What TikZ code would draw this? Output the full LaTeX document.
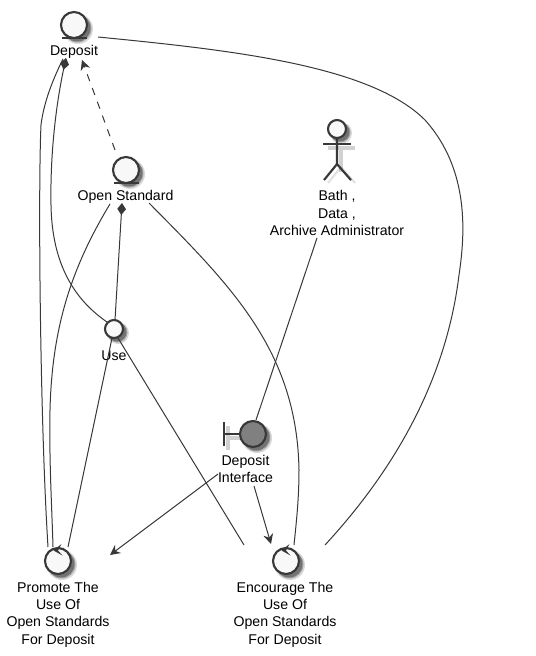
\documentclass[tikz,border=0pt]{standalone}
\usepackage{fontspec}
\setmainfont{Liberation Sans}
\usetikzlibrary{calc, arrows.meta}

\definecolor{umlline}{HTML}{383838}
\definecolor{umlfill}{HTML}{F8F8F8}

\begin{document}
\begin{tikzpicture}[x=0.75pt, y=-0.75pt, >={Stealth[length=7.5pt, width=7.5pt, inset=2.5pt]}]
	\tikzstyle{icon} = [circle, draw=umlline, line width=1.6pt, fill=umlfill, inner sep=0pt]
	\tikzstyle{big} = [icon, minimum size=19.5pt]
	\tikzstyle{small} = [icon, minimum size=13.5pt]
	\tikzstyle{txt} = [align=center, inner sep=0pt, font=\fontsize{10.6pt}{13pt}\selectfont]
	\tikzstyle{stroke} = [draw=umlline, line width=1.6pt]
	\tikzstyle{haze} = [draw=black, opacity=0.18, line width=3.5pt]
	\tikzstyle{link} = [draw=umlline, line width=0.75pt]

	\useasboundingbox (0, 0) rectangle (535, 656);
	\fill[white] (0, 0) rectangle (535, 656);

	% icon shadows
	\foreach \x/\y/\r in {74/25/13.5, 126/170/13.5, 253/434/13.5, 58/561/13.5, 286/561/13.5, 114/329/9.5, 337/129/9.5} {
		\fill[black!15] (\x+4, \y+4) circle [radius=(\r+1.5)*0.75pt];
		\fill[black!35] (\x+3.5, \y+3.5) circle [radius=(\r+0.5)*0.75pt];
		\fill[black!55] (\x+3, \y+3) circle [radius=\r*0.75pt];
	}
	% actor shadow
	\path[haze] (341, 148) -- (341, 172) (328, 148) -- (355, 148);
	\path[draw=black, opacity=0.12, line width=1.5pt] (341, 167) -- (328, 183) (341, 167) -- (355, 183);
	% boundary shadow
	\path[haze] (228, 426) -- (228, 450) (228, 438) -- (245, 438);

	\node[big] 	at (74, 25) 	(dep) 	{};
	\node[big] 	at (126, 170) 	(std) 	{};
	\node[small] 	at (114, 329) 	(use) 	{};
	\node[big, fill=gray] 	at (253, 434) 	(bnd) 	{};
	\node[big] 	at (58, 561) 	(prm) 	{};
	\node[big] 	at (286, 561) 	(enc) 	{};
	\node[small] 	at (337, 129) 	(act) 	{};

	\node[txt] 	at (74, 51.5) 	(depl) 	{Deposit};
	\node[txt] 	at (125.5, 196.5) 	(stdl) 	{Open Standard};
	\node[txt] 	at (114, 356) 	(usel) 	{Use};
	\node[txt] 	at (337, 213) 	(actl) 	{Bath ,\\Data ,\\Archive Administrator};
	\node[txt] 	at (245.5, 469) 	(bndl) 	{Deposit\\Interface};
	\node[txt] 	at (58, 614.5) 	(prml) 	{Promote The\\Use Of\\Open Standards\\For Deposit};
	\node[txt] 	at (285, 614.5) 	(encl) 	{Encourage The\\Use Of\\Open Standards\\For Deposit};

	% icon details
	\draw[stroke] ($(dep)+(-12, 13)$) -- ($(dep)+(13, 13)$);
	\draw[stroke] ($(std)+(-12, 13)$) -- ($(std)+(13, 13)$);
	\draw[stroke] ($(bnd)+(-29, -12)$) -- ($(bnd)+(-29, 12)$);
	\draw[stroke] ($(bnd)+(-29, 0)$) -- (bnd.west);
	\draw[stroke] (act.south) -- ++(0, 25) coordinate (hip) -- ++(-13, 16);
	\draw[stroke] (hip) -- ++(14, 16);
	\draw[stroke] ($(act)+(-14, 15)$) -- ($(act)+(14, 15)$);
	\foreach \n in {prm, enc} {
		\fill[umlline] ($(\n)+(3.5, -17)$) -- ($(\n)+(-4.5, -10.5)$) -- ($(\n)+(4.5, -5.5)$) -- ($(\n)+(0, -10.5)$) -- cycle;
	}

	% connectors
	\draw[link] ($(dep)+(-11, 34)$) .. controls (55, 75) and (44, 100) .. (41, 125) .. controls (38, 190) and (40, 420) .. ($(prm)+(-10, -14)$);
	\draw[link, {Diamond[length=9pt, width=6.5pt]}-] ($(dep)+(-8, 33)$) .. controls (57, 100) and (50, 150) .. (51, 205) .. controls (52, 265) and (75, 300) .. ($(use)+(-7, -7)$);
	\draw[link, dash pattern=on 5.5pt off 5.5pt, ->] ($(std)+(-11, -20)$) -- ($(dep)+(8, 35)$);
	\draw[link, {Diamond[length=9pt, width=6.5pt]}-] ($(std)+(-4, 33)$) -- ($(use)+(1, -9)$);
	\draw[link] ($(std)+(-16, 34)$) .. controls (70, 270) and (52, 330) .. (50, 410) .. controls (49, 460) and (52, 510) .. ($(prm)+(-5, -14)$);
	\draw[link] ($(std)+(23, 33)$) .. controls (230, 285) and (297, 350) .. (299, 470) .. controls (299, 500) and (296, 525) .. ($(enc)+(8, -16)$);
	\draw[link] ($(use)+(-2, 9)$) -- ($(prm)+(10, -14)$);
	\draw[link] ($(use)+(4, 9)$) -- ($(enc)+(-42, -16)$);
	\draw[link] ($(act)+(-20, 109)$) -- ($(bnd)+(3, -14)$);
	\draw[link, ->] ($(bnd)+(-35, 40)$) -- ($(prm)+(52, -6)$);
	\draw[link, ->] ($(bnd)+(1, 52)$) -- ($(enc)+(-15, -17)$);
	\draw[link] ($(dep)+(24, 12)$) .. controls (230, 50) and (370, 65) .. (425, 120) .. controls (470, 170) and (465, 235) .. (459, 275) .. controls (445, 390) and (385, 480) .. ($(enc)+(39, -16)$);
\end{tikzpicture}
\end{document}
